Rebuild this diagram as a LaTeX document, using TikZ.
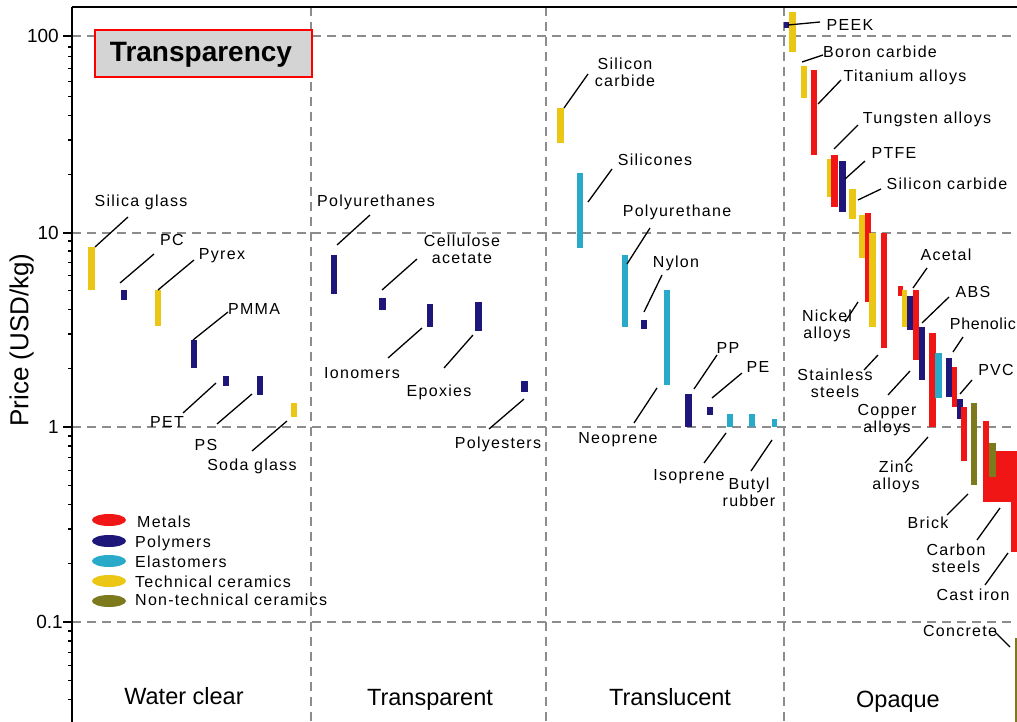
\documentclass[tikz,border=0pt]{standalone}
\usepackage{fontspec}
\usetikzlibrary{shapes.geometric}
\setmainfont{Liberation Sans}
\newfontfamily\lblfont{Liberation Sans}[LetterSpace=8]
\newfontfamily\lbltight{Liberation Sans}[LetterSpace=4]
\definecolor{metal}{RGB}{240,22,22}
\definecolor{poly}{RGB}{30,22,120}
\definecolor{elast}{RGB}{40,170,200}
\definecolor{tcer}{RGB}{235,198,20}
\definecolor{ntcer}{RGB}{125,122,30}
\definecolor{gridgray}{RGB}{140,140,140}
\definecolor{titlefill}{RGB}{212,212,212}
% leader line from a bar to its label, ends given as named coordinates
\newcommand\leader[3]{\coordinate (#1-a) at (#2); \coordinate (#1-b) at (#3); \draw[lead] (#1-a) -- (#1-b);}
\begin{document}
\begin{tikzpicture}[x=1pt,y=-1pt,
  lbl/.style={font=\lblfont\fontsize{16}{16.5}\selectfont, inner sep=0pt, text height=11.6pt, text depth=0pt},
  mlbl/.style={font=\lblfont\fontsize{16}{16.5}\selectfont, inner sep=0pt, align=center, anchor=north},
  lead/.style={line width=1.3pt, black},
  gridline/.style={gridgray, line width=1.4pt, dash pattern=on 9pt off 6pt},
  ticklbl/.style={font=\fontsize{19}{20}\selectfont, inner sep=0pt, text height=13.6pt, text depth=0pt, anchor=east},
  catlbl/.style={font=\fontsize{23.5}{24}\selectfont, inner sep=0pt, text height=16.8pt, text depth=0pt},
  legtext/.style={font=\lblfont\fontsize{16}{16.5}\selectfont, inner sep=0pt, text height=11.6pt, text depth=0pt, anchor=west},
  legmark/.style={ellipse, inner sep=0pt, minimum width=34pt, minimum height=12pt},
]
\useasboundingbox (0,0) rectangle (1017,722);

% ---------- grid ----------
\foreach \yy in {36,233,427,622} \draw[gridline] (72,\yy) -- (1017,\yy);
\foreach \xx in {311,546,784} \draw[gridline] (\xx,7) -- (\xx,722);

% ---------- axes ----------
\draw[line width=2pt] (72,7) -- (1017,7);
\draw[line width=1.5pt] (72,7) -- (72,722);
\foreach \yy in {36,233,427,622} \draw[line width=1.3pt] (63,\yy) -- (72,\yy);
\foreach \b in {233,427,622,817}
  \foreach \o in {58.70,93.04,117.40,136.30,151.74,164.79,176.10,186.08} {
    \pgfmathsetmacro\yy{\b-\o}
    \ifdim\yy pt<722pt \ifdim\yy pt>7pt \draw[line width=1.2pt] (68,\yy) -- (72,\yy); \fi\fi
  }
\node[ticklbl] (t100) at (59,36) {100};
\node[ticklbl] (t10) at (59,233) {10};
\node[ticklbl] (t1) at (59,427) {1};
\node[ticklbl] (t01) at (63,622) {0.1};
\node[font=\fontsize{26}{27}\selectfont, inner sep=0pt, text height=18.6pt, text depth=0pt, rotate=90] (ylab) at (19,340) {Price (USD/kg)};

% ---------- title ----------
\node[draw=red, line width=1.4pt, fill=titlefill, minimum width=217pt, minimum height=47pt, inner sep=0pt] (titlebox) at (203.5,53.5) {};
\node[font=\bfseries\fontsize{28}{29}\selectfont, inner sep=0pt, text height=20pt, text depth=0pt] (title) at (201,52) {Transparency};

% ---------- column names ----------
\node[catlbl] (c1) at (184,696) {Water clear};
\node[catlbl] (c2) at (430,697) {Transparent};
\node[catlbl] (c3) at (670,697) {Translucent};
\node[catlbl] (c4) at (898,699) {Opaque};

% ---------- legend ----------
\node[legmark, fill=metal] (lm1) at (109,520) {};
\node[legmark, fill=poly]  (lm2) at (109,541) {};
\node[legmark, fill=elast] (lm3) at (109,561) {};
\node[legmark, fill=tcer]  (lm4) at (109,581) {};
\node[legmark, fill=ntcer] (lm5) at (109,601) {};
\node[legtext] (lt1) at (137,522) {Metals};
\node[legtext] (lt2) at (135,542) {Polymers};
\node[legtext] (lt3) at (135,562) {Elastomers};
\node[legtext] (lt4) at (135,582) {Technical ceramics};
\node[legtext] (lt5) at (135,600) {Non-technical ceramics};

% ---------- water clear ----------
\fill[tcer] (88,247) rectangle (95,290);
\fill[poly] (121,290) rectangle (127,300);
\fill[tcer] (155,290) rectangle (161,326);
\fill[poly] (191,340) rectangle (197,368);
\fill[poly] (223,376) rectangle (229,386);
\fill[poly] (257,376) rectangle (263,395);
\fill[tcer] (291,403) rectangle (297,417);
\node[lbl] (silica) at (141,201) {Silica glass};
\node[lbl] (pc) at (172,240) {PC};
\node[lbl] (pyrex) at (222,254) {Pyrex};
\node[lbl] (pmma) at (254,309) {PMMA};
\node[lbl] (pet) at (167,422) {PET};
\node[lbl] (ps) at (206,445) {PS};
\node[lbl] (soda) at (252,465) {Soda glass};
\leader{silica}{95,247}{128,217}
\leader{pc}{120,283}{154,254}
\leader{pyrex}{158,290}{194,260}
\leader{pmma}{193,340}{228,312}
\leader{pet}{183,413}{216,383}
\leader{ps}{217,424}{252,394}
\leader{soda}{252,451}{287,421}

% ---------- transparent ----------
\fill[poly] (331,255) rectangle (337,294);
\fill[poly] (379,298) rectangle (386,310);
\fill[poly] (427,304) rectangle (433,327);
\fill[poly] (475,302) rectangle (482,331);
\fill[poly] (521,381) rectangle (528,392);
\node[lbl] (pur) at (376,201) {Polyurethanes};
\node[mlbl] (ca) at (462,235.2) {Cellulose\\acetate};
\node[lbl] (iono) at (362,373) {Ionomers};
\node[lbl] (epox) at (439,391) {Epoxies};
\node[lbl] (pest) at (498,443) {Polyesters};
\leader{pur}{337,245}{370,215}
\leader{ca}{382,290}{417,259}
\leader{iono}{388,358}{422,328}
\leader{epox}{444,368}{473,335}
\leader{pest}{489,429}{524,399}

% ---------- translucent ----------
\fill[tcer] (557,108) rectangle (564,143);
\fill[elast] (577,173) rectangle (583,248);
\fill[elast] (622,255) rectangle (628,327);
\fill[poly] (641,320) rectangle (647,329);
\fill[elast] (664,290) rectangle (670,385);
\fill[poly] (685,394) rectangle (692,427);
\fill[poly] (707,407) rectangle (713,415);
\fill[elast] (727,414) rectangle (733,427);
\fill[elast] (749,414) rectangle (755,427);
\fill[elast] (772,419) rectangle (777,427);
\node[mlbl] (sic1) at (625,58.2) {Silicon\\carbide};
\node[lbl] (silic) at (655,160) {Silicones};
\node[lbl] (pu) at (677,211) {Polyurethane};
\node[lbl] (nylon) at (676,262) {Nylon};
\node[lbl] (neo) at (618,438) {Neoprene};
\node[lbl] (pp) at (728,348) {PP};
\node[lbl] (pe) at (758,367) {PE};
\node[lbl] (iso) at (689,475) {Isoprene};
\node[mlbl] (butyl) at (749,478.2) {Butyl\\rubber};
\leader{sic1}{564,108}{588,74}
\leader{silic}{588,202}{612,169}
\leader{pu}{627,264}{650,228}
\leader{nylon}{644,312}{662,275}
\leader{neo}{634,423}{657,388}
\leader{pp}{694,389}{717,355}
\leader{pe}{712,398}{742,373}
\leader{iso}{704,463}{726,433}
\leader{butyl}{751,471}{772,440}

% ---------- opaque ----------
\fill[tcer] (789,12) rectangle (796,52);
\fill[poly] (784,22) rectangle (789,28);
\fill[tcer] (801,66) rectangle (807,98);
\fill[metal] (811,70) rectangle (817,155);
\fill[tcer] (827,159) rectangle (832,197);
\fill[metal] (831,155) rectangle (838,207);
\fill[poly] (839,161) rectangle (846,212);
\fill[tcer] (849,189) rectangle (856,219);
\fill[tcer] (859,215) rectangle (865,258);
\fill[metal] (865,213) rectangle (871,302);
\fill[tcer] (869,233) rectangle (876,327);
\fill[metal] (881,233) rectangle (887,348);
\fill[metal] (898,286) rectangle (903,296);
\fill[tcer] (902,290) rectangle (907,327);
\fill[poly] (907,296) rectangle (913,330);
\fill[metal] (913,290) rectangle (919,360);
\fill[poly] (919,327) rectangle (925,380);
\fill[metal] (929,333) rectangle (936,427);
\fill[elast] (935,353) rectangle (942,398);
\fill[poly] (946,358) rectangle (952,397);
\fill[metal] (952,367) rectangle (957,407);
\fill[poly] (957,399) rectangle (963,419);
\fill[metal] (961,407) rectangle (967,461);
\fill[ntcer] (971,403) rectangle (977,485);
\fill[metal] (983,421) rectangle (989,502);
\fill[metal] (989,451) rectangle (1011,502);
\fill[ntcer] (989,443) rectangle (996,477);
\fill[metal] (1011,451) rectangle (1017,552);
\fill[ntcer] (1015,638) rectangle (1017,722);
\node[lbl] (peek) at (850,25) {PEEK};
\node[lbl] (boron) at (880,52) {Boron carbide};
\node[lbl] (ti) at (905,76) {Titanium alloys};
\node[lbl] (w) at (927,118) {Tungsten alloys};
\node[lbl] (ptfe) at (894,153) {PTFE};
\node[lbl] (sic2) at (947,184) {Silicon carbide};
\node[mlbl] (ni) at (827,310.2) {Nickel\\alloys};
\node[mlbl] (ss) at (835,369.2) {Stainless\\steels};
\node[lbl] (acetal) at (946,255) {Acetal};
\node[lbl] (abs) at (973,292) {ABS};
\node[mlbl] (cu) at (887,404.2) {Copper\\alloys};
\node[mlbl] (zn) at (896,461.2) {Zinc\\alloys};
\node[lbl, font=\lbltight\fontsize{16}{16.5}\selectfont, anchor=east] (phen) at (1016,324) {Phenolic};
\node[lbl] (pvc) at (996,370) {PVC};
\node[lbl] (brick) at (928,523) {Brick};
\node[mlbl] (cs) at (956,544.2) {Carbon\\steels};
\node[lbl] (ci) at (973,595) {Cast iron};
\node[lbl] (conc) at (960,631) {Concrete};
\leader{peek}{788,25}{820,22}
\leader{boron}{802,62}{823,55}
\leader{ti}{818,104}{841,80}
\leader{w}{834,149}{858,125}
\leader{ptfe}{845,179}{865,161}
\leader{sic2}{858,200}{881,189}
\leader{ni}{845,322}{858,302}
\leader{ss}{864,370}{878,355}
\leader{acetal}{913,288}{927,268}
\leader{abs}{922,323}{949,297}
\leader{cu}{888,395}{910,371}
\leader{zn}{905,463}{928,437}
\leader{phen}{953,352}{963,337}
\leader{pvc}{960,394}{972,380}
\leader{brick}{947,515}{968,494}
\leader{cs}{977,540}{1000,508}
\leader{ci}{985,585}{1008,553}
\leader{conc}{995,632}{1010,647}
\end{tikzpicture}
\end{document}
